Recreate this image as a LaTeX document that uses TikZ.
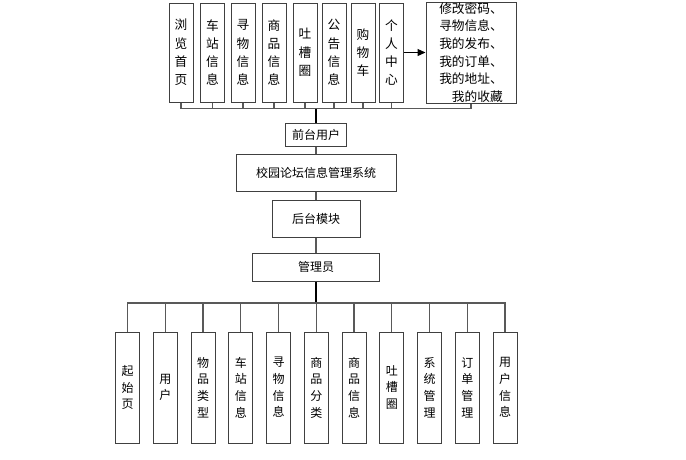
\documentclass[tikz,border=0pt]{standalone}
\usepackage{fontspec}
\setmainfont{Noto Sans CJK SC}
\usetikzlibrary{positioning,arrows.meta}

\begin{document}
\begin{tikzpicture}[x=1pt,y=-1pt,semithick]
		\tikzstyle{topbox}=[draw=black!75,line width=1pt,minimum width=24pt,minimum height=99pt,inner sep=0pt,align=center,font=\fontsize{12.7}{18.3}\selectfont]
		\tikzstyle{midbox}=[draw=black!75,line width=1pt,inner sep=0pt,font=\fontsize{12}{14}\selectfont]
		\tikzstyle{botbox}=[draw=black!75,line width=1pt,minimum width=24pt,minimum height=111pt,inner sep=0pt,align=center,font=\fontsize{12}{16.7}\selectfont]
		\tikzstyle{branch}=[draw=black!65,line width=1.2pt]
		\tikzstyle{trunk}=[draw=black,line width=1.2pt]
		\useasboundingbox (0,0) rectangle (686,459);
		% front-end modules
		\node[topbox]    (t1) at (181,52.5)   {浏\\览\\首\\页};
		\node[topbox]    (t2) at (212.5,52.5) {车\\站\\信\\息};
		\node[topbox]    (t3) at (243,52.5)   {寻\\物\\信\\息};
		\node[topbox]    (t4) at (274,52.5)   {商\\品\\信\\息};
		\node[topbox]    (t5) at (305,52.5)   {吐\\槽\\圈};
		\node[topbox]    (t6) at (334,52.5)   {公\\告\\信\\息};
		\node[topbox]    (t7) at (363,52.5)   {购\\物\\车};
		\node[topbox]    (t8) at (391.5,52.5) {个\\人\\中\\心};
		\node[topbox,minimum width=90pt,minimum height=101pt,align=right,font=\fontsize{12.7}{17.7}\selectfont] (t9) at (471,52.5) {修改密码、\\寻物信息、\\我的发布、\\我的订单、\\我的地址、\\我的收藏};
		% middle chain
		\node[midbox,minimum width=61pt,minimum height=23pt]  (qt)  at (316,134.5) {前台用户};
		\node[midbox,minimum width=160pt,minimum height=37pt] (sys) at (316,172.5) {校园论坛信息管理系统};
		\node[midbox,minimum width=88pt,minimum height=37pt]  (ht)  at (316,218.5) {后台模块};
		\node[midbox,minimum width=127pt,minimum height=28pt] (gly) at (316,267)   {管理员};
		% back-end modules
		\node[botbox]    (b1) at (127.5,387.5)                  {起\\始\\页};
		\node[botbox]    (b2) [right of=b1, node distance=37.75pt] {用\\户};
		\node[botbox]    (b3) [right of=b2, node distance=37.75pt] {物\\品\\类\\型};
		\node[botbox]    (b4) [right of=b3, node distance=37.75pt] {车\\站\\信\\息};
		\node[botbox]    (b5) [right of=b4, node distance=37.75pt] {寻\\物\\信\\息};
		\node[botbox]    (b6) [right of=b5, node distance=37.75pt] {商\\品\\分\\类};
		\node[botbox]    (b7) [right of=b6, node distance=37.75pt] {商\\品\\信\\息};
		\node[botbox]    (b8) [right of=b7, node distance=37.75pt] {吐\\槽\\圈};
		\node[botbox]    (b9) [right of=b8, node distance=37.75pt] {系\\统\\管\\理};
		\node[botbox]    (b10) [right of=b9, node distance=37.75pt] {订\\单\\管\\理};
		\node[botbox]    (b11) [right of=b10, node distance=37.75pt] {用\\户\\信\\息};
		\coordinate (topbus) at (316,108.5);
		\coordinate (botbus) at (316,303);
		% upper tree
		\draw[branch] (t1.south) |- (topbus);
		\draw[branch] (t2.south) |- (topbus);
		\draw[branch] (t3.south) |- (topbus);
		\draw[branch] (t4.south) |- (topbus);
		\draw[branch] (t5.south) |- (topbus);
		\draw[branch] (t6.south) |- (topbus);
		\draw[branch] (t7.south) |- (topbus);
		\draw[branch] (t8.south) |- (topbus);
		\draw[branch] (t9.south) |- (topbus);
		\draw[trunk] (topbus) -- (qt.north);
		\draw[branch,draw=black,-{Triangle[length=8pt,width=7pt]}] (t8.east) -- (t9.west);
		% chain
		\draw[branch] (qt.south) -- (sys.north);
		\draw[branch] (sys.south) -- (ht.north);
		\draw[branch] (ht.south) -- (gly.north);
		% lower tree
		\draw[trunk] (gly.south) -- (botbus);
		\draw[branch] (botbus) -| (b1.north);
		\draw[branch] (botbus) -| (b2.north);
		\draw[branch] (botbus) -| (b3.north);
		\draw[branch] (botbus) -| (b4.north);
		\draw[branch] (botbus) -| (b5.north);
		\draw[branch] (botbus) -| (b6.north);
		\draw[branch] (botbus) -| (b7.north);
		\draw[branch] (botbus) -| (b8.north);
		\draw[branch] (botbus) -| (b9.north);
		\draw[branch] (botbus) -| (b10.north);
		\draw[branch] (botbus) -| (b11.north);
	\end{tikzpicture}
\end{document}
